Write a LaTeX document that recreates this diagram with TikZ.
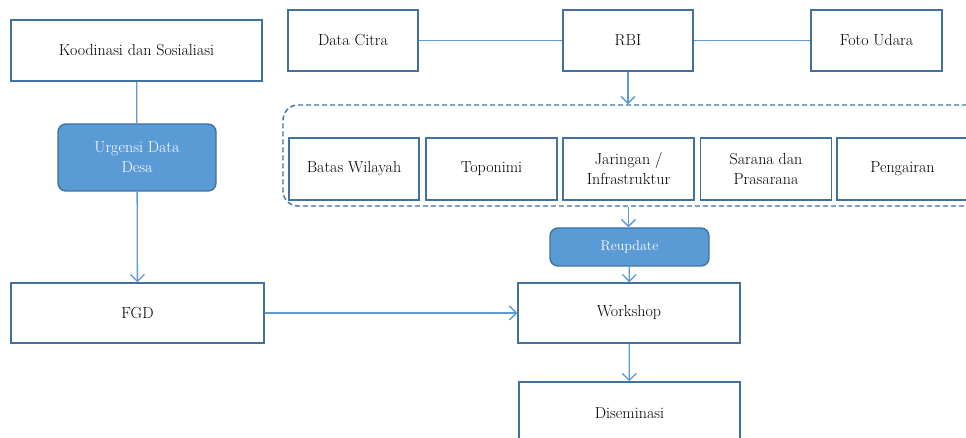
\documentclass[tikz,border=0pt]{standalone}
\usepackage{tikz}
\usetikzlibrary{arrows.meta}
\definecolor{garis}{HTML}{41719C}
\definecolor{panah}{HTML}{5B9BD5}
\definecolor{isi}{HTML}{5B9BD5}

\begin{document}
\begin{tikzpicture}[x=1pt,y=-1pt,
  kotak/.style={draw=garis,line width=1.4pt,fill=white,minimum height=61pt,align=center,inner sep=2pt,font=\fontsize{16}{20}\selectfont},
  biru/.style={draw=garis,line width=1.4pt,fill=isi,rounded corners=8pt,text=white,align=center,inner sep=2pt,font=\fontsize{16}{20}\selectfont},
  hub/.style={draw=panah,line width=1.3pt},
  pnh/.style={hub,-{Straight Barb[length=7pt,width=14pt]}}]
  \useasboundingbox (0,0) rectangle (966,438);
  \clip (0,0) rectangle (966,438);

   \draw (136.5,50.5) node[kotak,minimum width=251pt] (koord) {Koodinasi dan Sosialiasi};
   \draw (137,157.5) node[biru,minimum width=158pt,minimum height=67pt] (urgensi) {Urgensi Data\\Desa};
   \draw (137.5,313) node[kotak,minimum width=253pt,minimum height=60pt] (fgd) {FGD};

   \draw (353,40.5) node[kotak,minimum width=130pt] (citra) {Data Citra};
   \draw (628,40.5) node[kotak,minimum width=130pt] (rbi) {RBI};
   \draw (876.5,40.5) node[kotak,minimum width=131pt] (foto) {Foto Udara};

   \draw (636.5,155.5) node[draw=garis,dash pattern=on 5pt off 3pt,line width=1.4pt,rounded corners=15pt,minimum width=707pt,minimum height=101pt] (grup) {};
     \draw (354,169) node[kotak,minimum width=130pt,minimum height=62pt] (batas) {Batas Wilayah};
     \draw (491.5,169) node[kotak,minimum width=131pt,minimum height=62pt] (toponimi) {Toponimi};
     \draw (628.5,169) node[kotak,minimum width=131pt,minimum height=62pt] (jaringan) {Jaringan /\\Infrastruktur};
     \draw (766,169) node[kotak,minimum width=131pt,minimum height=62pt] (sarana) {Sarana dan\\Prasarana};
     \draw (902.5,169) node[kotak,minimum width=131pt,minimum height=62pt] (pengairan) {Pengairan};

   \draw (629.5,247) node[biru,minimum width=159pt,minimum height=38pt,font=\fontsize{14}{16}\selectfont] (reupdate) {Reupdate};
   \draw (629,313) node[kotak,minimum width=222pt,minimum height=60pt] (workshop) {Workshop};
   \draw (629.5,413) node[kotak,minimum width=221pt,minimum height=62pt] (diseminasi) {Diseminasi};

   \path[hub] (koord) edge (urgensi);
   \path[pnh] (urgensi) edge (fgd);
   \path[pnh] (fgd) edge (workshop);
   \path[hub] (citra) edge (rbi);
   \path[hub] (rbi) edge (foto);
   \draw[pnh] (rbi) -- (rbi |- grup.north);
   \draw[pnh] (jaringan |- grup.south) -- (jaringan |- reupdate.north);
   \path[pnh] (reupdate) edge (workshop);
   \path[pnh] (workshop) edge (diseminasi);

\end{tikzpicture}
\end{document}
